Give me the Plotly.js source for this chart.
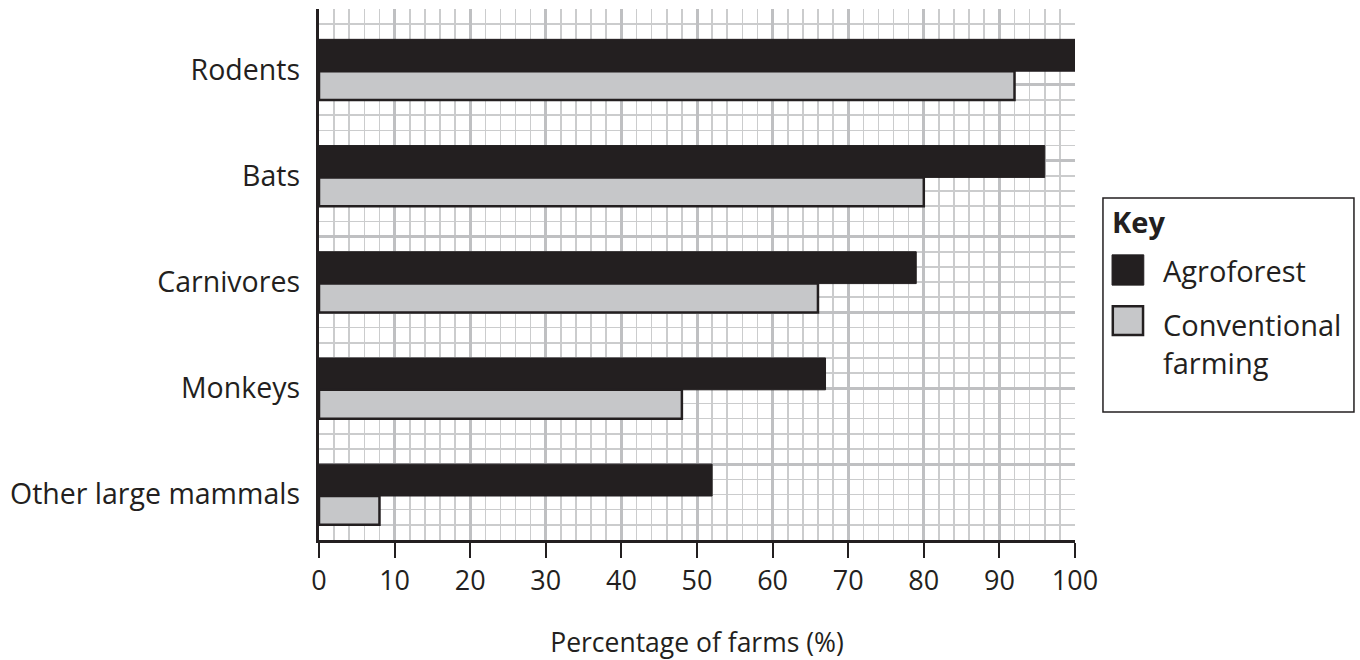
<!DOCTYPE html>
<html>
<head>
<meta charset="utf-8">
<script src="https://cdn.plot.ly/plotly-3.0.1.min.js"></script>
<style>html,body{margin:0;padding:0;background:#fff;}#chart{width:1360px;height:660px;}</style>
</head>
<body>
<div id="chart"></div>
<script>
// Data (top to bottom as in the picture)
const categories = ["Rodents", "Bats", "Carnivores", "Monkeys", "Other large mammals"];
const agroforest = [100, 96, 79, 67, 52];
const conventional = [92, 80, 66, 48, 8];
const seriesNames = ["Agroforest", "Conventional<br>farming"];
const xTicks = [0, 10, 20, 30, 40, 50, 60, 70, 80, 90, 100];
const xTitle = "Percentage of farms (%)";
const keyTitle = "Key";

const ink = "#231f20";
const grey = "#c6c7c9";
const FONT = "Open Sans, sans-serif";

// category centres in grid units (7 units per category, 35 total)
const n = categories.length;
const centres = categories.map((c, i) => 3 + 7 * (n - 1 - i));

const traces = [
  {
    type: "bar", orientation: "h", name: "Agroforest",
    x: agroforest, y: centres.map(c => c + 0.95), width: 2.1,
    marker: {color: ink, line: {color: ink, width: 1}},
    hoverinfo: "x", showlegend: false
  },
  {
    type: "bar", orientation: "h", name: "Conventional farming",
    x: conventional, y: centres.map(c => c - 1.05), width: 1.9,
    marker: {color: grey, line: {color: ink, width: 2.5}},
    hoverinfo: "x", showlegend: false
  },
  { // carrier for the category label axis
    type: "scatter", mode: "markers", x: [], y: [], yaxis: "y2", showlegend: false, hoverinfo: "skip"
  }
];

// Key drawn in paper coordinates
const shapes = [
  {type: "rect", xref: "paper", yref: "paper", x0: 1.037, x1: 1.369, y0: 0.241, y1: 0.644,
   line: {color: ink, width: 1.5}, fillcolor: "rgba(0,0,0,0)"},
  {type: "rect", xref: "paper", yref: "paper", x0: 1.049, x1: 1.091, y0: 0.480, y1: 0.537,
   line: {color: ink, width: 1}, fillcolor: ink},
  {type: "rect", xref: "paper", yref: "paper", x0: 1.050, x1: 1.090, y0: 0.386, y1: 0.440,
   line: {color: ink, width: 2.5}, fillcolor: grey}
];
const annotations = [
  {xref: "paper", yref: "paper", x: 1.046, y: 0.600, xanchor: "left", yanchor: "middle",
   text: "<b>" + keyTitle + "</b>", showarrow: false, font: {family: FONT, size: 29, color: ink}},
  {xref: "paper", yref: "paper", x: 1.114, y: 0.508, xanchor: "left", yanchor: "middle",
   text: seriesNames[0], showarrow: false, font: {family: FONT, size: 29, color: ink}},
  {xref: "paper", yref: "paper", x: 1.114, y: 0.370, xanchor: "left", yanchor: "middle", align: "left",
   text: seriesNames[1], showarrow: false, font: {family: FONT, size: 29, color: ink}}
];

const layout = {
  width: 1360, height: 660,
  margin: {l: 319, r: 285, t: 9, b: 120, pad: 0},
  paper_bgcolor: "#fff", plot_bgcolor: "#fff",
  showlegend: false,
  bargap: 0,
  font: {family: FONT, size: 27, color: ink},
  xaxis: {
    range: [0, 100], tickmode: "array", tickvals: xTicks, ticktext: xTicks.map(String),
    showgrid: true, gridcolor: "#bfc0c2", gridwidth: 3,
    minor: {dtick: 2, tick0: 0, showgrid: true, gridcolor: "#cbcccd", gridwidth: 1.6, ticks: ""},
    zeroline: false, showline: true, linecolor: ink, linewidth: 3,
    ticks: "outside", ticklen: 15, tickwidth: 2, tickcolor: ink,
    tickfont: {family: FONT, size: 27, color: ink},
    title: {text: xTitle, standoff: 42, font: {family: FONT, size: 26.5, color: ink}},
    fixedrange: true
  },
  yaxis: {
    range: [0, 35], dtick: 5, tick0: 0,
    showgrid: true, gridcolor: "#bfc0c2", gridwidth: 3,
    minor: {dtick: 1, tick0: 0, showgrid: true, gridcolor: "#cbcccd", gridwidth: 1.6, ticks: ""},
    showticklabels: false, ticks: "",
    zeroline: false, showline: true, linecolor: ink, linewidth: 3,
    fixedrange: true
  },
  yaxis2: {
    overlaying: "y", side: "left", anchor: "x",
    range: [0, 35], tickmode: "array", tickvals: centres, ticktext: categories,
    showgrid: false, zeroline: false, showline: false, ticks: "",
    ticklabelstandoff: 18,
    tickfont: {family: FONT, size: 28.5, color: ink},
    fixedrange: true
  },
  shapes: shapes,
  annotations: annotations
};

Plotly.newPlot("chart", traces, layout, {displayModeBar: false, staticPlot: true});
</script>
</body>
</html>
